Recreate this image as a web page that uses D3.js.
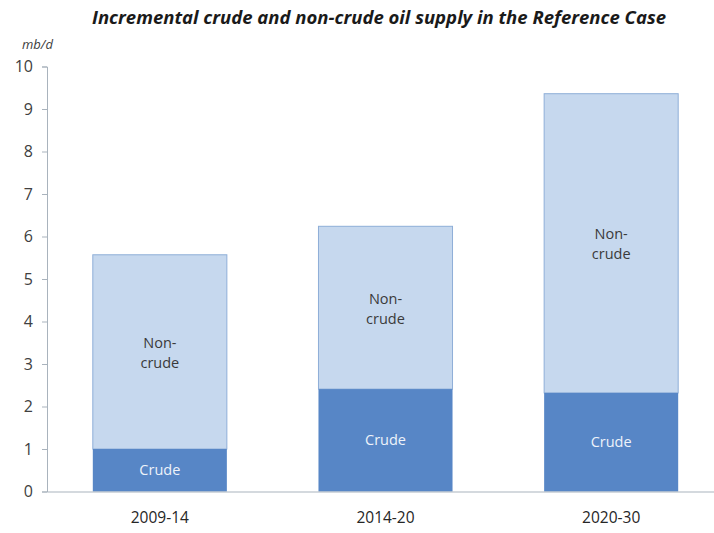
<!DOCTYPE html>
<html>
<head>
<meta charset="utf-8">
<script src="https://cdn.jsdelivr.net/npm/d3@7"></script>
<style>
  body { margin: 0; background: #fff; }
  text { font-family: "Open Sans", "Noto Sans", sans-serif; }
</style>
</head>
<body>
<div id="chart"></div>
<script>
var periods = ["2009-14", "2014-20", "2020-30"];
var crude = [1.0, 2.41, 2.32];
var nonCrude = [4.57, 3.83, 7.04];
var yTicks = [0, 1, 2, 3, 4, 5, 6, 7, 8, 9, 10];

var width = 714, height = 533;
var svg = d3.select("#chart").append("svg")
    .attr("width", width)
    .attr("height", height);

var xScale = d3.scaleBand()
    .domain(periods)
    .range([47, 724])
    .paddingInner(0.406)
    .paddingOuter(0.203);

var yScale = d3.scaleLinear()
    .domain([0, 10])
    .range([491.5, 66.5]);

// title
svg.append("text")
    .attr("x", 379)
    .attr("y", 24)
    .attr("text-anchor", "middle")
    .attr("font-size", 18.3)
    .attr("font-style", "italic")
    .attr("font-weight", "bold")
    .attr("fill", "#1a1a1a")
    .attr("textLength", 574)
    .attr("lengthAdjust", "spacingAndGlyphs")
    .text("Incremental crude and non-crude oil supply in the Reference Case");

svg.append("text")
    .attr("x", 22)
    .attr("y", 49)
    .attr("font-size", 13)
    .attr("font-style", "italic")
    .attr("fill", "#404040")
    .text("mb/d");

// y axis
var yAxis = svg.append("g")
    .attr("transform", "translate(47,0)")
    .call(d3.axisLeft(yScale).tickValues(yTicks).tickSize(5).tickPadding(9));
yAxis.select(".domain").attr("stroke", "#a9b3bd");
yAxis.selectAll(".tick line").attr("stroke", "#a9b3bd");
yAxis.selectAll(".tick text")
    .attr("font-size", 16)
    .attr("fill", "#404040")
    .attr("font-family", "'Open Sans', sans-serif");

// stacked bars
var rows = periods.map(function(p, i){
    return { period: p, crude: crude[i], nonCrude: nonCrude[i] };
});

svg.append("g").selectAll("rect")
    .data(rows)
    .enter()
    .append("rect")
    .attr("x", function(d){ return xScale(d.period); })
    .attr("y", function(d){ return yScale(d.crude + d.nonCrude); })
    .attr("width", xScale.bandwidth())
    .attr("height", function(d){ return yScale(d.crude) - yScale(d.crude + d.nonCrude); })
    .attr("fill", "#c6d8ee")
    .attr("stroke", "#8eaed8")
    .attr("stroke-width", 1);

svg.append("g").selectAll("rect")
    .data(rows)
    .enter()
    .append("rect")
    .attr("x", function(d){ return xScale(d.period); })
    .attr("y", function(d){ return yScale(d.crude); })
    .attr("width", xScale.bandwidth())
    .attr("height", function(d){ return yScale(0) - yScale(d.crude); })
    .attr("fill", "#5786c6");

// labels in segments
var ncLabels = svg.append("g").selectAll("text")
    .data(rows)
    .enter()
    .append("text")
    .attr("text-anchor", "middle")
    .attr("font-size", 14.5)
    .attr("fill", "#3a3a3a")
    .attr("transform", function(d){
        var cy = (yScale(d.crude) + yScale(d.crude + d.nonCrude)) / 2;
        return "translate(" + (xScale(d.period) + xScale.bandwidth() / 2) + "," + cy + ")";
    });
ncLabels.append("tspan").attr("x", 0).attr("y", -4).text("Non-");
ncLabels.append("tspan").attr("x", 0).attr("y", 16).text("crude");

svg.append("g").selectAll("text")
    .data(rows)
    .enter()
    .append("text")
    .attr("text-anchor", "middle")
    .attr("font-size", 14.5)
    .attr("fill", "#eef3fa")
    .attr("x", function(d){ return xScale(d.period) + xScale.bandwidth() / 2; })
    .attr("y", function(d){ return (yScale(0) + yScale(d.crude)) / 2 + 5; })
    .text("Crude");

// x axis
var xAxis = svg.append("g")
    .attr("transform", "translate(0," + yScale(0) + ")")
    .call(d3.axisBottom(xScale).tickSize(0).tickPadding(20));
xAxis.select(".domain").attr("stroke", "#a9b3bd");
xAxis.selectAll(".tick text")
    .attr("font-size", 15.5)
    .attr("fill", "#262626")
    .attr("font-family", "'Open Sans', sans-serif");
</script>
</body>
</html>
